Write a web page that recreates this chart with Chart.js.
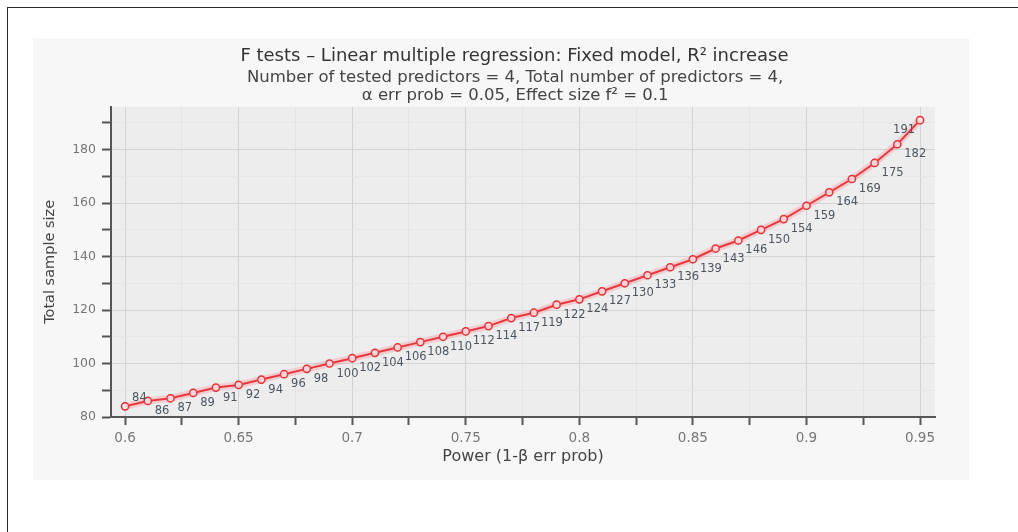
<!DOCTYPE html>
<html>
<head>
<meta charset="utf-8">
<script src="https://cdn.jsdelivr.net/npm/chart.js@4.4.1/dist/chart.umd.min.js"></script>
<style>
  html, body { margin: 0; padding: 0; background: #fff; }
  body { width: 1018px; height: 532px; position: relative; overflow: hidden; }
  #frame { position: absolute; left: 7px; top: 7px; right: -5px; bottom: -5px;
           border-top: 1.5px solid #2a2a2a; border-left: 1.5px solid #2a2a2a; }
  #panel { position: absolute; left: 33px; top: 38px; width: 936px; height: 442px; background: #f7f7f7; }
</style>
</head>
<body>
<div id="frame"></div>
<div id="panel"><canvas id="chart" width="936" height="442"></canvas></div>
<script>
const power = [0.60, 0.61, 0.62, 0.63, 0.64, 0.65, 0.66, 0.67, 0.68, 0.69,
               0.70, 0.71, 0.72, 0.73, 0.74, 0.75, 0.76, 0.77, 0.78, 0.79,
               0.80, 0.81, 0.82, 0.83, 0.84, 0.85, 0.86, 0.87, 0.88, 0.89,
               0.90, 0.91, 0.92, 0.93, 0.94, 0.95];
const sampleSize = [84, 86, 87, 89, 91, 92, 94, 96, 98, 100,
                    102, 104, 106, 108, 110, 112, 114, 117, 119, 122,
                    124, 127, 130, 133, 136, 139, 143, 146, 150, 154,
                    159, 164, 169, 175, 182, 191];
const titleText = 'F tests \u2013 Linear multiple regression: Fixed model, R\u00b2 increase';
const subtitleLines = ['Number of tested predictors = 4, Total number of predictors = 4,',
                       '\u03b1 err prob = 0.05, Effect size f\u00b2 = 0.1'];
const xTitle = 'Power (1-\u03b2 err prob)';
const yTitle = 'Total sample size';

const FONT = '"DejaVu Sans", sans-serif';
const RED = '#e2252d';

const points = power.map((p, i) => ({ x: p, y: sampleSize[i] }));

function isMajorX(v) { return Math.round(v * 1000) % 50 === 0; }
function isMajorY(v) { return Math.round(v) % 20 === 0; }

// the heading sits a little left of the plot centre in the original
const pad = s => s + '   ';

// plot area background
const plotBg = {
  id: 'plotBg',
  beforeDraw(chart) {
    const a = chart.chartArea;
    const c = chart.ctx;
    c.save();
    c.fillStyle = '#ededed';
    c.fillRect(a.left, a.top, a.right - a.left, a.bottom - a.top);
    c.restore();
  }
};

// value labels next to every point
const pointLabels = {
  id: 'pointLabels',
  afterDatasetsDraw(chart) {
    const meta = chart.getDatasetMeta(1);
    const c = chart.ctx;
    c.save();
    c.font = '11.5px ' + FONT;
    c.fillStyle = '#4d5660';
    c.textBaseline = 'middle';
    meta.data.forEach((pt, i) => {
      const txt = String(sampleSize[i]);
      if (i === 0) {
        c.textAlign = 'left';
        c.fillText(txt, pt.x + 7, pt.y - 8);
      } else if (i === meta.data.length - 1) {
        c.textAlign = 'right';
        c.fillText(txt, pt.x - 5, pt.y + 10);
      } else {
        c.textAlign = 'left';
        c.fillText(txt, pt.x + 7, pt.y + 10);
      }
    });
    c.restore();
  }
};

const ctx = document.getElementById('chart');
const chart = new Chart(ctx, {
  type: 'line',
  data: {
    datasets: [{
      // soft halo under the line
      data: points,
      borderColor: 'rgba(255, 110, 120, 0.25)',
      borderWidth: 7,
      pointRadius: 0,
      tension: 0
    }, {
      data: points,
      borderColor: RED,
      borderWidth: 2,
      pointRadius: 3.6,
      pointBorderWidth: 1.5,
      pointBackgroundColor: '#fff6f6',
      pointBorderColor: RED,
      tension: 0
    }]
  },
  options: {
    responsive: false,
    animation: false,
    events: [],
    layout: { padding: { left: 0, right: 34, top: 0, bottom: 11.8 } },
    plugins: {
      legend: { display: false },
      tooltip: { enabled: false },
      title: {
        display: true,
        fullSize: false,
        text: pad(titleText),
        color: '#333',
        font: { family: FONT, size: 18, weight: 'normal', lineHeight: 1.2 },
        padding: { top: 7.7, bottom: 1.2 }
      },
      subtitle: {
        display: true,
        fullSize: false,
        text: subtitleLines.map(pad),
        color: '#444',
        font: { family: FONT, size: 16.5, weight: 'normal', lineHeight: 18 / 16.5 },
        padding: { top: 0, bottom: 2.3 }
      }
    },
    scales: {
      x: {
        type: 'linear',
        min: 0.5938,
        max: 0.9566,
        afterFit(scale) { scale.height = 51.2; },
        border: { color: '#555', width: 2 },
        grid: {
          color: c => isMajorX(c.tick.value) ? '#d3d3d3' : '#e3e3e3',
          tickColor: '#555',
          tickWidth: 2,
          tickLength: 8
        },
        ticks: {
          stepSize: 0.025,
          includeBounds: false,
          autoSkip: false,
          maxRotation: 0,
          padding: 5,
          color: '#777',
          font: { family: FONT, size: 13.5 },
          callback: v => isMajorX(v) ? String(+v.toFixed(3)) : ''
        },
        title: {
          display: true,
          text: xTitle,
          color: '#444',
          font: { family: FONT, size: 16 },
          padding: { top: 4, bottom: 1.6 }
        }
      },
      y: {
        type: 'linear',
        min: 80,
        max: 196,
        afterFit(scale) { scale.width = 78; },
        border: { color: '#555', width: 2 },
        grid: {
          color: c => isMajorY(c.tick.value) ? '#d3d3d3' : '#e6e6e6',
          tickColor: '#555',
          tickWidth: 2,
          tickLength: 9
        },
        ticks: {
          stepSize: 10,
          includeBounds: false,
          autoSkip: false,
          padding: 6,
          color: '#777',
          font: { family: FONT, size: 12.5 },
          callback: v => isMajorY(v) ? String(v) : ''
        },
        title: {
          display: true,
          text: yTitle,
          color: '#444',
          font: { family: FONT, size: 14.5 },
          padding: { top: 8.3, bottom: 4 }
        }
      }
    }
  },
  plugins: [plotBg, pointLabels]
});
</script>
</body>
</html>
